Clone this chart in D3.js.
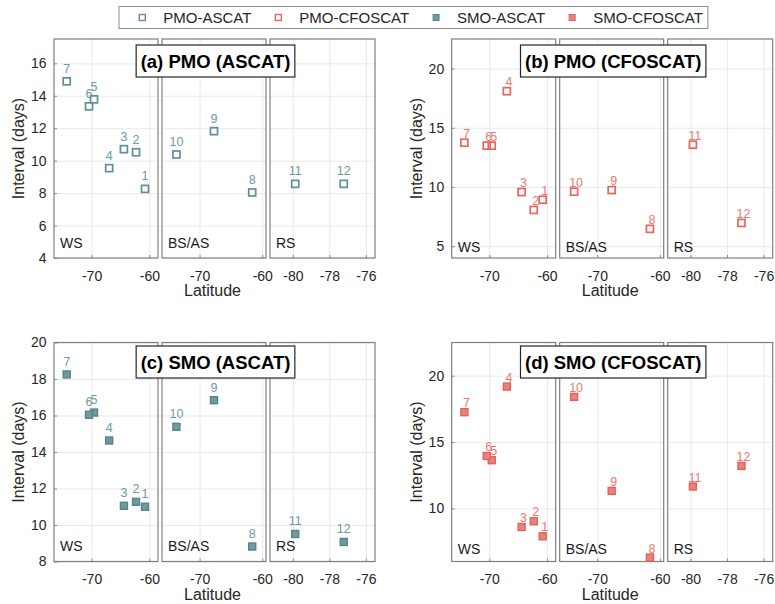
<!DOCTYPE html>
<html lang='en'>
<head>
	<meta charset='UTF-8'/>
	<title>Interval vs latitude</title>
	<script src='https://cdnjs.cloudflare.com/ajax/libs/d3/7.8.5/d3.min.js'></script>
	<style>
		body {margin: 0; background: #fff;}
		svg {font-family: 'Liberation Sans', Arial, sans-serif;}
		.grid line {stroke: #e3e3e3; stroke-width: 0.8;}
		.grid path {display: none;}
		.ticks path {display: none;}
		.ticks line {stroke: #8a8a8a;}
		.ticks text {fill: #262626; font-size: 14px;}
	</style>
</head>
<body>
	<script>
		// stations 1..12 (1-7 WS, 8-10 BS/AS, 11-12 RS)
		const stations = ['1', '2', '3', '4', '5', '6', '7', '8', '9', '10', '11', '12'];
		const stationRegion = ['WS', 'WS', 'WS', 'WS', 'WS', 'WS', 'WS', 'BS/AS', 'BS/AS', 'BS/AS', 'RS', 'RS'];
		const latitude = [-60.75, -62.3, -64.4, -66.95, -69.57, -70.44, -74.3, -61.6, -67.7, -73.7, -79.87, -77.21];

		const pmoAscat = [8.26, 10.52, 10.71, 9.54, 13.78, 13.35, 14.89, 8.04, 11.82, 10.38, 8.57, 8.57];
		const pmoCfoscat = [8.92, 8.06, 9.57, 18.09, 13.49, 13.49, 13.74, 6.46, 9.74, 9.6, 13.57, 6.96];
		const smoAscat = [11.0, 11.27, 11.05, 14.63, 16.16, 16.04, 18.25, 8.82, 16.84, 15.38, 9.51, 9.07];
		const smoCfoscat = [7.9, 9.03, 8.6, 19.18, 13.63, 13.95, 17.25, 6.3, 11.32, 18.4, 11.65, 13.2];

		const regions = ['WS', 'BS/AS', 'RS'];
		const regionDomains = [[-76.5, -58.5], [-76, -59.4], [-81.25, -75.5]];
		const regionTicks = [[-70, -60], [-70, -60], [-80, -78, -76]];

		const seriesNames = ['PMO-ASCAT', 'PMO-CFOSCAT', 'SMO-ASCAT', 'SMO-CFOSCAT'];

		const ASCAT = {stroke: '#5f9096', fill: '#6f9a9e', edge: '#568589', text: '#6b9aa0'};
		const CFOSCAT = {stroke: '#e8645c', fill: '#e8827c', edge: '#e0625b', text: '#ee7770'};

		const width = 775, height = 604;
		const subW = [104, 104, 105], subGap = 4, panelH = 219;

		const panels = [
			{title: '(a) PMO (ASCAT)', values: pmoAscat, yDomain: [4, 17.5], yTicks: [4, 6, 8, 10, 12, 14, 16],
				col: ASCAT, filled: false, left: 54, top: 39, boxTop: 45, regionDy: 10.5, labelDx: 0, labelDy: -8.5},
			{title: '(b) PMO (CFOSCAT)', values: pmoCfoscat, yDomain: [4, 22.5], yTicks: [5, 10, 15, 20],
				col: CFOSCAT, filled: false, left: 451.7, top: 39, boxTop: 45, regionDy: 6, labelDx: 2, labelDy: -5},
			{title: '(c) SMO (ASCAT)', values: smoAscat, yDomain: [8, 20], yTicks: [8, 10, 12, 14, 16, 18, 20],
				col: ASCAT, filled: true, left: 54, top: 342.5, boxTop: 346, regionDy: 11, labelDx: 0, labelDy: -8.5},
			{title: '(d) SMO (CFOSCAT)', values: smoCfoscat, yDomain: [6, 22.5], yTicks: [10, 15, 20],
				col: CFOSCAT, filled: true, left: 451.7, top: 342.5, boxTop: 346, regionDy: 8, labelDx: 2, labelDy: -5}
		];

		const svg = d3.select('body')
			.append('svg')
			.attr('width', width)
			.attr('height', height);

		panels.forEach(p => {
			const g = svg.append('g').attr('transform', 'translate(' + p.left + ',' + p.top + ')');
			const y = d3.scaleLinear().domain(p.yDomain).range([panelH, 0]);
			let x0 = 0;

			regions.forEach((reg, ri) => {
				const w = subW[ri];
				const x = d3.scaleLinear().domain(regionDomains[ri]).range([0, w]);
				const sg = g.append('g').attr('transform', 'translate(' + x0 + ',0)');

				// grid
				sg.append('g').attr('class', 'grid')
					.attr('transform', 'translate(0,' + panelH + ')')
					.call(d3.axisBottom(x).tickValues(regionTicks[ri]).tickSize(-panelH).tickFormat(''));
				sg.append('g').attr('class', 'grid')
					.call(d3.axisLeft(y).tickValues(p.yTicks).tickSize(-w).tickFormat(''));

				// x ticks + labels
				sg.append('g').attr('class', 'ticks')
					.attr('transform', 'translate(0,' + panelH + ')')
					.call(d3.axisBottom(x).tickValues(regionTicks[ri])
						.tickSizeInner(-3).tickSizeOuter(0).tickPadding(13)
						.tickFormat(d => String(d)));

				if (ri === 0) {
					sg.append('g').attr('class', 'ticks')
						.call(d3.axisLeft(y).tickValues(p.yTicks)
							.tickSizeInner(-3).tickSizeOuter(0).tickPadding(7.5)
							.tickFormat(d => String(d)));
				}

				// frame
				sg.append('rect')
					.attr('width', w)
					.attr('height', panelH)
					.attr('fill', 'none')
					.attr('stroke', '#7f7f7f')
					.attr('stroke-width', 1.2);

				// region name
				sg.append('text')
					.attr('x', 6)
					.attr('y', panelH - p.regionDy)
					.style('font-size', '14px')
					.style('fill', '#1a1a1a')
					.text(reg);

				const pts = stations.map((s, i) => ({s: s, lat: latitude[i], v: p.values[i], reg: stationRegion[i]}))
					.filter(d => d.reg === reg);

				const size = 7;
				sg.selectAll('rect.mk')
					.data(pts)
					.enter()
					.append('rect')
					.attr('class', 'mk')
					.attr('x', d => x(d.lat) - size / 2)
					.attr('y', d => y(d.v) - size / 2)
					.attr('width', size)
					.attr('height', size)
					.attr('fill', p.filled ? p.col.fill : 'none')
					.attr('stroke', p.filled ? p.col.edge : p.col.stroke)
					.attr('stroke-width', p.filled ? 1.4 : 1.7);

				sg.selectAll('text.lb')
					.data(pts)
					.enter()
					.append('text')
					.attr('class', 'lb')
					.attr('x', d => x(d.lat) + p.labelDx)
					.attr('y', d => y(d.v) + p.labelDy)
					.attr('text-anchor', 'middle')
					.style('font-size', '12.5px')
					.style('fill', p.col.text)
					.text(d => d.s);

				x0 += w + subGap;
			});

			const totalW = x0 - subGap;

			// axis titles
			g.append('text')
				.attr('transform', 'rotate(-90)')
				.attr('x', -panelH / 2)
				.attr('y', -30)
				.attr('text-anchor', 'middle')
				.style('font-size', '16px')
				.style('fill', '#262626')
				.text('Interval (days)');
			g.append('text')
				.attr('x', totalW / 2 - 2)
				.attr('y', panelH + 38)
				.attr('text-anchor', 'middle')
				.style('font-size', '16px')
				.style('fill', '#262626')
				.text('Latitude');

			// title box
			const tb = g.append('g');
			const tt = tb.append('text')
				.attr('x', totalW / 2 + 1)
				.attr('y', p.boxTop - p.top + 23)
				.attr('text-anchor', 'middle')
				.style('font-size', '18.5px')
				.style('font-weight', 'bold')
				.style('fill', '#000')
				.text(p.title);
			const tw = tt.node().getComputedTextLength();
			tb.insert('rect', 'text')
				.attr('x', totalW / 2 + 1 - tw / 2 - 4.5)
				.attr('y', p.boxTop - p.top)
				.attr('width', tw + 9)
				.attr('height', 32)
				.attr('fill', '#fff')
				.attr('stroke', '#262626')
				.attr('stroke-width', 1.2);
		});

		// Legend
		const legendStyles = [
			{col: ASCAT, filled: false}, {col: CFOSCAT, filled: false},
			{col: ASCAT, filled: true}, {col: CFOSCAT, filled: true}
		];
		const legend = svg.append('g').attr('id', 'legend');
		const lbox = legend.append('rect')
			.attr('y', 6.5)
			.attr('height', 22)
			.attr('fill', '#fff')
			.attr('stroke', '#8c8c8c')
			.attr('stroke-width', 1);
		let lx = 142.3;
		seriesNames.forEach((name, i) => {
			const st = legendStyles[i];
			legend.append('rect')
				.attr('x', lx - 3)
				.attr('y', 17.5 - 3)
				.attr('width', 6)
				.attr('height', 6)
				.attr('fill', st.filled ? st.col.fill : 'none')
				.attr('stroke', st.filled ? st.col.edge : st.col.stroke)
				.attr('stroke-width', st.filled ? 1 : 1.4);
			const t = legend.append('text')
				.attr('x', lx + 21)
				.attr('y', 23)
				.style('font-size', '15px')
				.style('fill', '#262626')
				.text(name);
			lx = lx + 21 + t.node().getComputedTextLength() + 27;
		});
		lbox.attr('x', 119).attr('width', lx - 27 + 5 - 119);
	</script>
</body>
</html>
